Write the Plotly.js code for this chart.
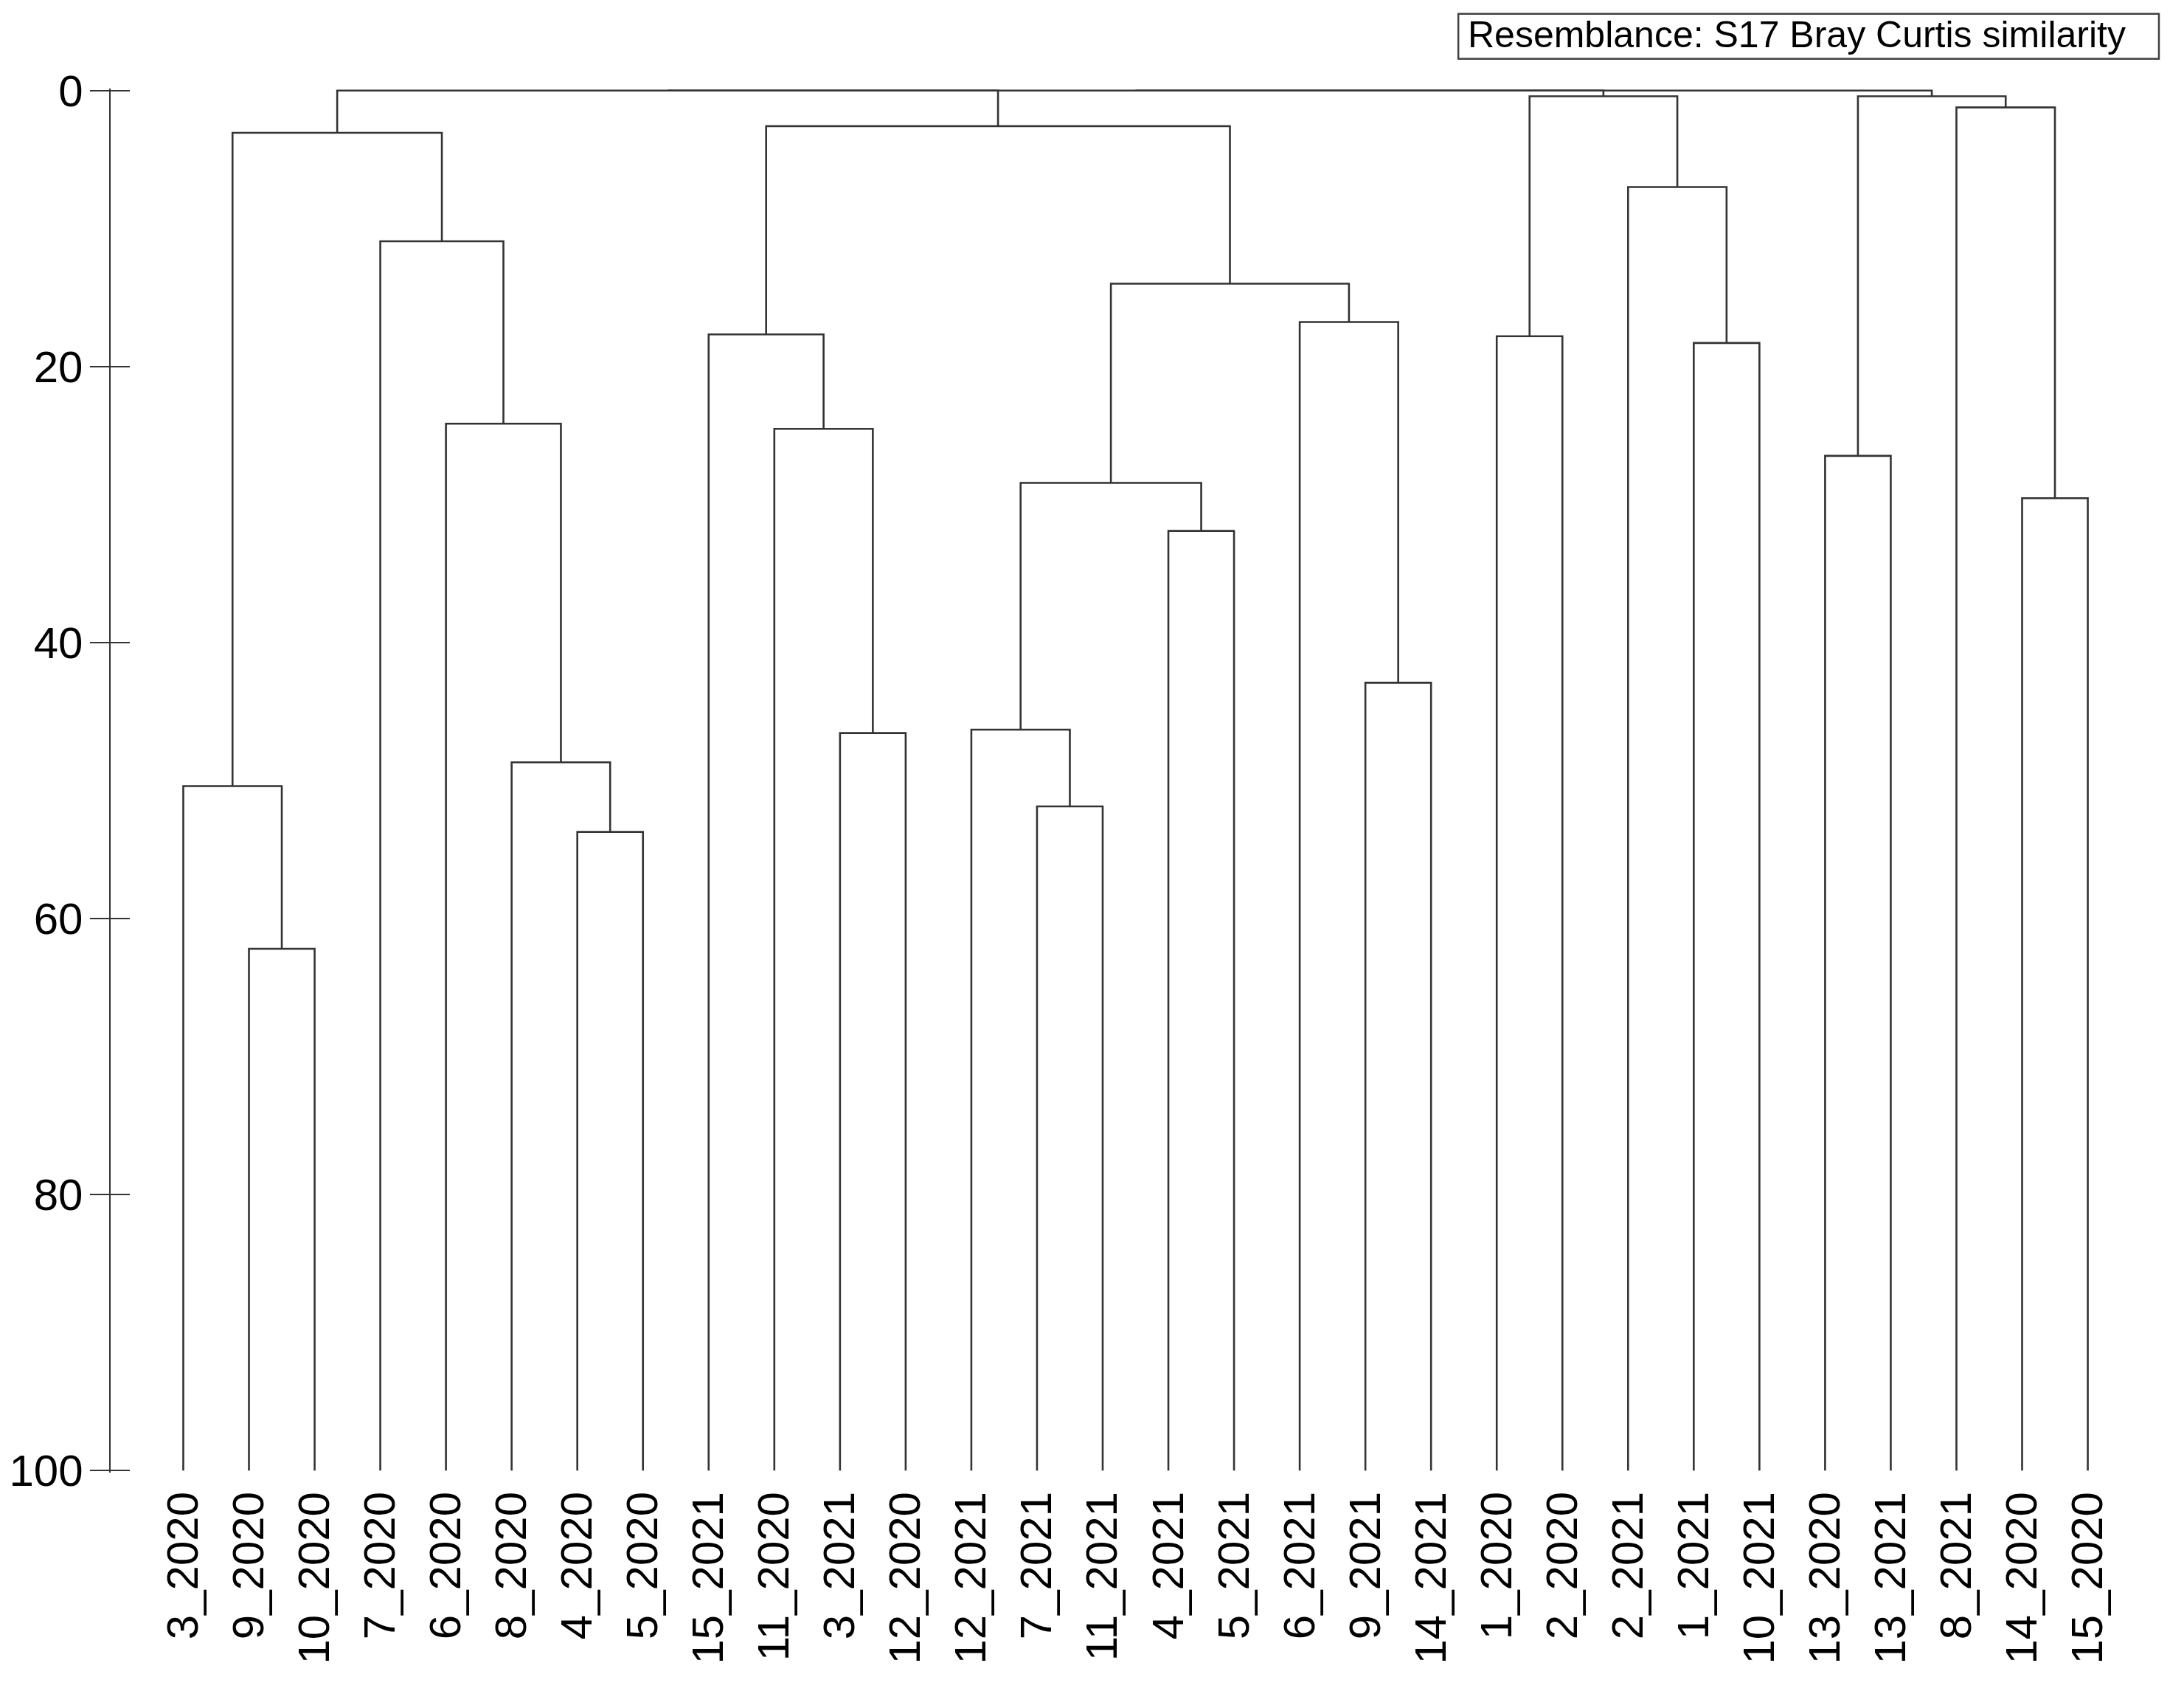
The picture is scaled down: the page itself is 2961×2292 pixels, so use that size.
<!DOCTYPE html>
<html>
<head>
<meta charset="utf-8">
<script src="https://cdn.plot.ly/plotly-3.0.1.min.js"></script>
<style>html,body{margin:0;padding:0;background:#fff;}#chart{width:2961px;height:2292px;}</style>
</head>
<body>
<div id="chart"></div>
<script>
// Leaf order (left to right)
const labels = ["3_2020","9_2020","10_2020","7_2020","6_2020","8_2020","4_2020","5_2020",
  "15_2021","11_2020","3_2021","12_2020","12_2021","7_2021","11_2021","4_2021","5_2021",
  "6_2021","9_2021","14_2021","1_2020","2_2020","2_2021","1_2021","10_2021",
  "13_2020","13_2021","8_2021","14_2020","15_2020"];

// Merges: cluster cN joins mergeLeft[N-1] and mergeRight[N-1] at similarity mergeSim[N-1]
const mergeLeft  = ["9_2020","3_2020","4_2020","8_2020","6_2020","7_2020","c2",
  "3_2021","11_2020","15_2021","7_2021","12_2021","4_2021","c12","9_2021","6_2021","c14","c10",
  "1_2020","1_2021","2_2021","c19","13_2020","14_2020","8_2021","c23","c7","c27","c28"];
const mergeRight = ["10_2020","c1","5_2020","c3","c4","c5","c6",
  "12_2020","c8","c9","11_2021","c11","5_2021","c13","14_2021","c15","c16","c17",
  "2_2020","10_2021","c20","c21","13_2021","15_2020","c24","c25","c18","c22","c26"];
const mergeSim   = [62.19,50.4,53.72,48.68,24.14,10.92,3.06,
  46.56,24.51,17.67,51.87,46.31,31.91,28.43,42.91,16.77,13.99,2.58,
  17.8,18.29,6.99,0.41,26.47,29.54,1.22,0.41,0,0,0];

const yTicks = [0,20,40,60,80,100];
const legendText = "Resemblance: S17 Bray Curtis similarity";

// ---- build dendrogram segments through the axes ----
const pos = {}, lev = {};
labels.forEach((l,i)=>{pos[l]=i; lev[l]=100;});
const xs=[], ys=[];
mergeLeft.forEach((a,i)=>{
  const b = mergeRight[i], h = mergeSim[i], id = "c"+(i+1);
  xs.push(pos[a],pos[a],pos[b],pos[b],null);
  ys.push(lev[a],h,h,lev[b],null);
  pos[id]=(pos[a]+pos[b])/2; lev[id]=h;
});

const W=2961,Hh=2292;
const mL=149.5,mR=61,mT=120.2,mB=296.2;
const PW=W-mL-mR, PH=Hh-mT-mB;
const px2x = p => (p-mL)/PW;
const py2y = p => (Hh-mB-p)/PH;
const lineCol='#333333';
const font='"Liberation Sans", Arial, sans-serif';

const traces=[
  {x:xs,y:ys,type:'scatter',mode:'lines',line:{color:lineCol,width:2.6},hoverinfo:'skip'},
  {x:[],y:[],type:'scatter',mode:'lines',yaxis:'y2',hoverinfo:'skip'}
];

const layout={
  width:W,height:Hh,
  margin:{l:mL,r:mR,t:mT,b:mB,pad:0},
  paper_bgcolor:'#fff',plot_bgcolor:'#fff',
  showlegend:false,
  font:{family:font,color:'#000'},
  xaxis:{range:[-1.106,29.78],tickmode:'array',tickvals:labels.map((_,i)=>i),ticktext:labels,
    tickangle:-90,ticks:'',showgrid:false,zeroline:false,showline:false,
    tickfont:{family:font,size:60,color:'#000'},ticklabelstandoff:13,fixedrange:true},
  yaxis:{range:[100.15,-0.15],tickmode:'array',tickvals:yTicks,ticktext:yTicks.map(String),
    ticks:'outside',ticklen:26,tickwidth:2.5,tickcolor:lineCol,
    showline:true,linecolor:lineCol,linewidth:2.5,showgrid:false,zeroline:false,
    tickfont:{family:font,size:60,color:'#000'},ticklabelstandoff:-3,fixedrange:true},
  yaxis2:{overlaying:'y',side:'left',anchor:'x',range:[100.15,-0.15],tickmode:'array',tickvals:yTicks,
    ticks:'inside',ticklen:26,tickwidth:2.5,tickcolor:lineCol,showticklabels:false,
    showline:false,showgrid:false,zeroline:false,fixedrange:true},
  shapes:[{type:'rect',xref:'paper',yref:'paper',
    x0:px2x(1977),x1:px2x(2927),y0:py2y(80),y1:py2y(19),
    line:{color:'#404040',width:2.5},fillcolor:'rgba(0,0,0,0)'}],
  annotations:[{text:legendText,xref:'paper',yref:'paper',x:px2x(1988),y:py2y(47),
    xanchor:'left',yanchor:'middle',showarrow:false,font:{family:font,size:50,color:'#000'}}]
};

Plotly.newPlot('chart',traces,layout,{staticPlot:true,displayModeBar:false});
</script>
</body>
</html>
